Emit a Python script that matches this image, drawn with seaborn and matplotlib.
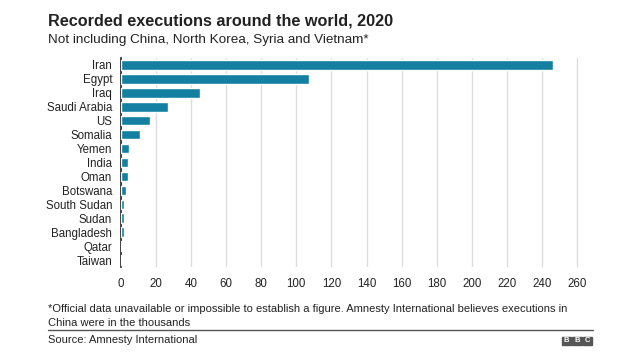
import matplotlib
matplotlib.use("Agg")
import matplotlib.pyplot as plt
import seaborn as sns
import pandas as pd
from matplotlib.patches import Rectangle
from matplotlib.lines import Line2D

countries = ["Iran", "Egypt", "Iraq", "Saudi Arabia", "US", "Somalia", "Yemen",
             "India", "Oman", "Botswana", "South Sudan", "Sudan", "Bangladesh",
             "Qatar", "Taiwan"]
executions = [246, 107, 45, 27, 17, 11, 5, 4, 4, 3, 2, 2, 2, 1, 1]
xticks = [0, 20, 40, 60, 80, 100, 120, 140, 160, 180, 200, 220, 240, 260]

df = pd.DataFrame({"country": countries, "executions": executions})

sns.set_theme(style="white")
plt.rcParams["font.family"] = ["Liberation Sans", "DejaVu Sans"]

fig = plt.figure(figsize=(6.4, 3.6), dpi=100)
W, H = 640, 360
left, right, top, bottom = 120.5, 580, 58, 267
ax = fig.add_axes([left / W, 1 - bottom / H, (right - left) / W, (bottom - top) / H])

sns.barplot(data=df, x="executions", y="country", color="#1380A1",
            saturation=1, width=0.68, ax=ax, zorder=3)

ax.set_xlim(0, 261.5)
ax.set_ylim(14.5, -0.5)
ax.set_xticks(xticks)
ax.set_xticklabels([str(t) for t in xticks])
ax.set_xlabel("")
ax.set_ylabel("")
ax.grid(axis="x", color="#dddddd", linewidth=1)
ax.set_axisbelow(True)
for s in ["top", "right", "bottom"]:
    ax.spines[s].set_visible(False)
ax.spines["left"].set_color("#222222")
ax.spines["left"].set_linewidth(1.2)
ax.spines["left"].set_zorder(2)
ax.tick_params(axis="x", length=0, pad=8, labelsize=8.3, colors="#222222")
ax.tick_params(axis="y", length=0, pad=6, labelsize=8.3, colors="#222222")

X0 = 47.5
fig.text(X0 / W, 1 - 21 / H, "Recorded executions around the world, 2020",
         fontsize=11.7, fontweight="bold", color="#222222", va="center")
fig.text(X0 / W, 1 - 40 / H, "Not including China, North Korea, Syria and Vietnam*",
         fontsize=9.7, color="#222222", va="center")
fig.text(X0 / W, 1 - 309 / H,
         "*Official data unavailable or impossible to establish a figure. Amnesty International believes executions in",
         fontsize=8.0, color="#222222", va="center")
fig.text(X0 / W, 1 - 322.5 / H, "China were in the thousands",
         fontsize=8.0, color="#222222", va="center")
fig.add_artist(Line2D([X0 / W, 593 / W], [1 - 330 / H, 1 - 330 / H],
                      color="#555555", linewidth=1, transform=fig.transFigure))
fig.text(X0 / W, 1 - 340 / H, "Source: Amnesty International",
         fontsize=8.0, color="#222222", va="center")

# BBC logo
for i, ch in enumerate("BBC"):
    x0 = 562 + i * 10.4
    fig.add_artist(Rectangle((x0 / W, 1 - 344.5 / H), 9.4 / W, 7.5 / H,
                             transform=fig.transFigure, color="#555555"))
    fig.text((x0 + 4.7) / W, 1 - 340.8 / H, ch, fontsize=5.5, color="white",
             fontweight="bold", ha="center", va="center")

fig.savefig("out.png", dpi=100)
